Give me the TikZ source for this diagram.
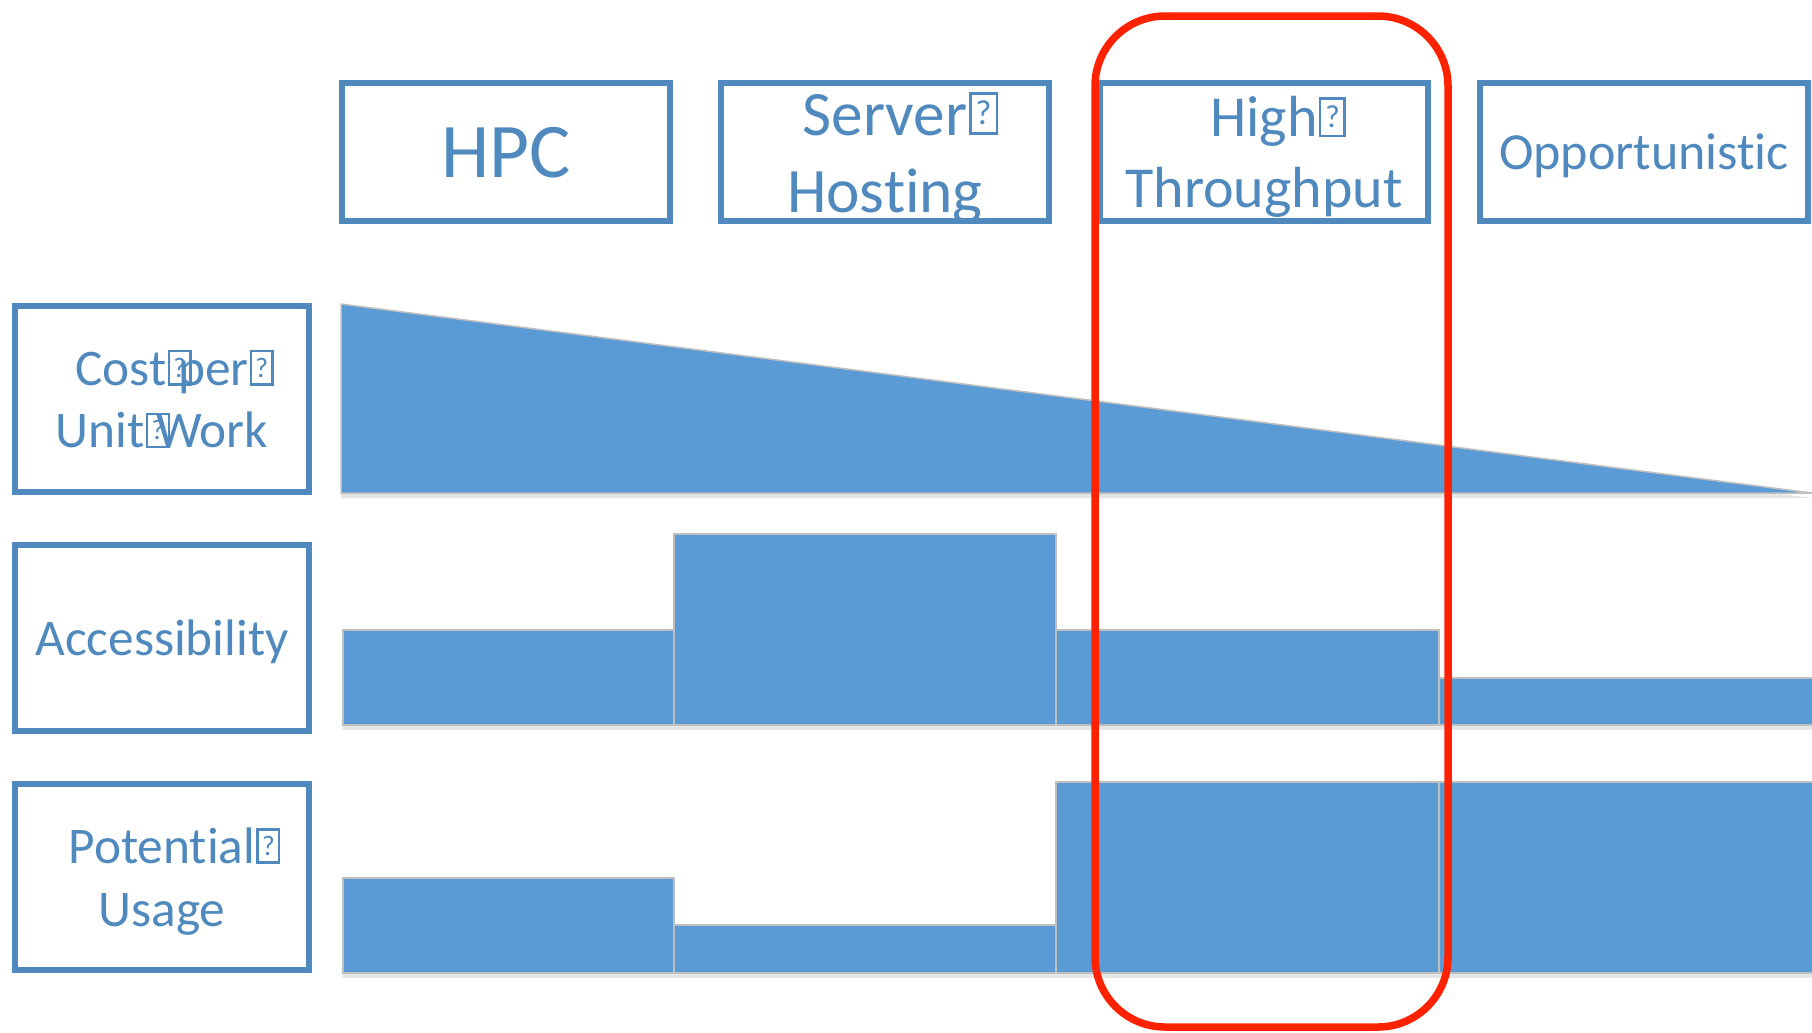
\documentclass[tikz,border=0pt]{standalone}
\usepackage{fontspec}
\setmainfont{Carlito}[Ligatures={NoCommon}]
\usepackage{graphicx}
\usetikzlibrary{shadows}
\definecolor{boxblue}{RGB}{79,137,189}
\definecolor{barblue}{RGB}{91,155,213}
\definecolor{bargray}{RGB}{191,191,191}
\definecolor{framered}{RGB}{255,34,0}
\newcommand\tofu{\rlap{\hspace{0.02em}\raisebox{0.04em}{\setlength\fboxsep{0pt}\setlength\fboxrule{0.045em}\fbox{\makebox[0.38em]{\rule{0pt}{0.6em}\raisebox{0.12em}{\scalebox{0.55}{?}}}}}}}
\newcommand\sidefont{\fontsize{14.6pt}{17.8pt}\selectfont}
\tikzset{
	hdrbox/.style={draw=boxblue, line width=0.06cm, minimum width=3.28cm, minimum height=1.38cm, text=boxblue, align=center, inner sep=0pt, text depth=0pt},
	sidebox/.style={draw=boxblue, line width=0.06cm, minimum width=2.93cm, minimum height=1.86cm, text=boxblue, align=center, inner sep=0pt, text depth=0pt, font=\sidefont},
	bar/.style={fill=barblue, draw=bargray, line width=0.015cm, drop shadow={shadow xshift=0cm, shadow yshift=-0.05cm, opacity=0.2}},
	redframe/.style={draw=framered, line width=0.075cm, rounded corners=0.7cm}
}
\begin{document}
\begin{tikzpicture}[x=0.01cm, y=-0.01cm]
			%%%%% START %%%%%
			
			\fill[white] (0, 0) rectangle (1812, 1032);
			\useasboundingbox (0, 0) rectangle (1812, 1032);
			
			% cost per unit work
			\draw[bar] (341, 304) -- (1812, 493) -- (341, 493) -- cycle;
			
			% accessibility
			\draw[bar] (343, 630) rectangle (674, 725);
			\draw[bar] (674, 534) rectangle (1056, 725);
			\draw[bar] (1056, 630) rectangle (1439, 725);
			\draw[bar] (1439, 678) rectangle (1816, 725);
			
			% potential usage
			\draw[bar] (343, 878) rectangle (674, 973);
			\draw[bar] (674, 925) rectangle (1056, 973);
			\draw[bar] (1056, 782) rectangle (1439, 973);
			\draw[bar] (1439, 782) rectangle (1816, 973);
			
			\node[hdrbox, font=\fontsize{22pt}{26.8pt}\selectfont] (hpc) at (506, 152) {HPC};
			\node[hdrbox, font=\fontsize{18pt}{22pt}\selectfont] (srv) at (885, 152) {Server\tofu\\Hosting};
			\node[hdrbox, font=\fontsize{16.5pt}{20.1pt}\selectfont] (hthr) at (1264, 152) {High\tofu\\Throughput};
			\node[hdrbox, font=\fontsize{14.8pt}{18pt}\selectfont] (opp) at (1644, 152) {Opportunistic};
			
			\node[sidebox] (cost) at (162, 399) {Cost\tofu\ per\tofu\\Unit\tofu\ Work};
			\node[sidebox] (access) at (162, 638) {Accessibility};
			\node[sidebox] (usage) at (162, 877) {Potential\tofu\\Usage};
			
			\draw[redframe] (1095, 16) rectangle (1448, 1027);
			
			%%%%% END %%%%%
\end{tikzpicture}
\end{document}
